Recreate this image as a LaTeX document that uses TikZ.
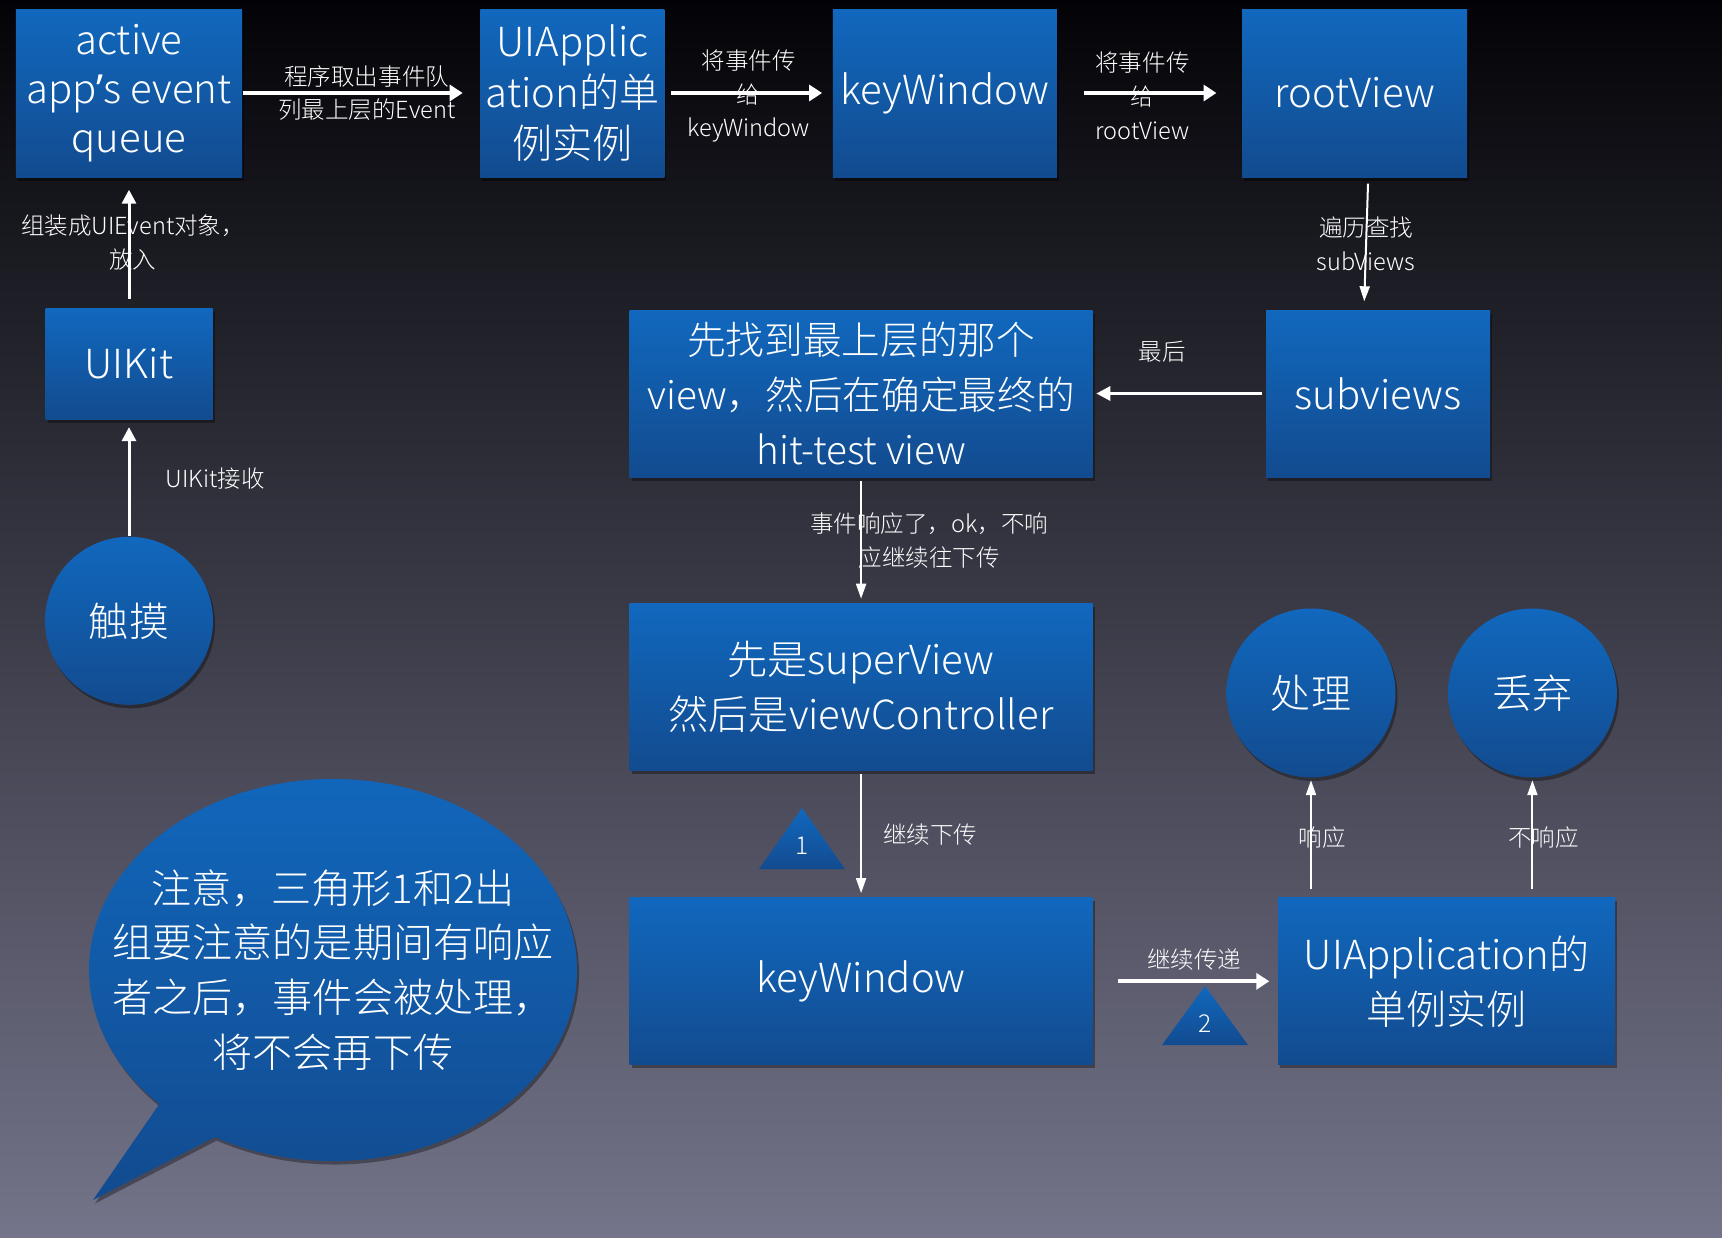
\documentclass[tikz,border=0pt]{standalone}
\usepackage{fontspec}
\setmainfont{Noto Sans CJK SC}[UprightFont={* Light}]
\newfontfamily\latinfont{Noto Sans}
\usetikzlibrary{arrows.meta,positioning,calc,shadows}
\definecolor{boxtop}{HTML}{1168BE}
\definecolor{boxbot}{HTML}{124B8F}
\definecolor{bgtop}{HTML}{030307}
\definecolor{bgmid}{HTML}{1D1D3A}
\definecolor{bgbot}{HTML}{74748A}
\newcommand{\boxfont}{\fontsize{11.4}{15.6}\selectfont}
\newcommand{\lblfont}{\fontsize{6.7}{9.6}\selectfont}

\begin{document}
\begin{tikzpicture}[
    node distance=16mm,
    box/.style={rectangle, top color=boxtop, bottom color=boxbot, text=white, align=center,
                inner sep=1pt, font=\boxfont, minimum height=16.7mm,
                drop shadow={shadow xshift=0.2mm, shadow yshift=-0.35mm, opacity=0.35, fill=black}},
    ball/.style={box, circle, minimum size=16.9mm},
    lbl/.style={text=white, font=\lblfont, align=center, inner sep=0pt},
    flow/.style={white, line width=0.4mm, -{Triangle[length=1.3mm,width=1.6mm]}},
    link/.style={white, line width=0.3mm, -{Triangle[length=1.4mm,width=1.4mm]}},
    hop/.style={white, line width=0.2mm, -{Triangle[length=1.5mm,width=1mm]}}]
  \useasboundingbox (0,0) rectangle (172.2mm,-123.8mm);
  \shade[top color=bgtop, middle color=bgmid, bottom color=bgbot] (0,0) rectangle (172.2mm,-123.8mm);

  \node[box, minimum width=22.6mm, minimum height=16.8mm, font=\fontsize{11.4}{13.9}\selectfont]
    (queue) at (12.9mm,-9.3mm) {active\\app{\latinfont ’}s event\\queue};
  \node[box, minimum width=18.4mm, minimum height=16.8mm, font=\fontsize{11.4}{14.5}\selectfont,
    right=23.7mm of queue] (app) {UIApplic\\ation的单\\例实例};
  \node[box, minimum width=22.4mm, minimum height=16.8mm, right=16.7mm of app] (keywin) {keyWindow};
  \node[box, minimum width=22.5mm, minimum height=16.8mm, right=18.4mm of keywin] (root) {rootView};
  \node[box, minimum width=16.7mm, minimum height=11.1mm, below=13mm of queue] (uikit) {UIKit};
  \node[ball, minimum size=16.8mm, below=11.6mm of uikit] (touch) {触摸};
  \node[box, minimum width=22.4mm] (subviews) at (137.8mm,-39.35mm) {subviews};
  \node[box, minimum width=46.3mm, font=\fontsize{11}{15.6}\selectfont, left=17.2mm of subviews]
    (hittest) {先找到最上层的那个\\view，然后在确定最终的\\hit-test view};
  \node[box, minimum width=46.3mm, below=12.5mm of hittest] (super) {先是superView\\然后是viewController};
  \node[box, minimum width=46.3mm, below=12.6mm of super] (keywin2) {keyWindow};
  \node[box, minimum width=33.7mm, right=18.4mm of keywin2] (app2) {UIApplication的\\单例实例};
  \node[ball] (handle) at (131.1mm,-69.3mm) {处理};
  \node[ball, right=5.1mm of handle] (discard) {丢弃};

  \coordinate (bub) at (33.3mm,-97mm);
  \coordinate (tip) at (9.3mm,-120mm);
  \path[top color=boxtop, bottom color=boxbot,
        drop shadow={shadow xshift=0.2mm, shadow yshift=-0.35mm, opacity=0.35, fill=black}]
    ([shift={(241:24.4mm and 19.1mm)}]bub)
    arc[start angle=241, end angle=584.6, x radius=24.4mm, y radius=19.1mm] -- (tip) -- cycle;
  \node[lbl, font=\boxfont] (note) at (bub) {注意，三角形1和2出\\组要注意的是期间有响应\\者之后，事件会被处理，\\将不会再下传};

  \coordinate (tri1) at (80.2mm,-86.9mm);
  \coordinate (tri2) at (120.5mm,-104.5mm);
  \path[top color=boxtop, bottom color=boxbot] ([xshift=-4.3mm]tri1) -- ([yshift=6.1mm]tri1) -- ([xshift=4.3mm]tri1) -- cycle;
  \path[top color=boxtop, bottom color=boxbot] ([xshift=-4.3mm]tri2) -- ([yshift=5.9mm]tri2) -- ([xshift=4.3mm]tri2) -- cycle;
  \node[lbl, font=\fontsize{7}{8}\selectfont] (one) at ([yshift=2.3mm]tri1) {1};
  \node[lbl, font=\fontsize{7}{8}\selectfont] (two) at ([yshift=2.15mm]tri2) {2};

  \draw[flow, shorten >=1.7mm] (queue) -- node[lbl, xshift=0.55mm] {程序取出事件队\\列最上层的Event} (app);
  \draw[flow, shorten <=0.6mm, shorten >=1mm] (app) -- node[lbl, yshift=-0.3mm] {将事件传\\给\\keyWindow} (keywin);
  \draw[flow, shorten <=2.6mm, shorten >=2.5mm] (keywin) -- node[lbl, xshift=-0.7mm, yshift=-0.3mm] {将事件传\\给\\rootView} (root);
  \draw[hop, shorten <=0.6mm, shorten >=0.8mm] ([xshift=1.35mm]root.south) -- node[lbl] {遍历查找\\subViews} ([xshift=-1.4mm]subviews.north);
  \draw[link, shorten <=0.3mm, shorten >=0.3mm] (subviews) -- node[lbl, xshift=-1.7mm, yshift=4.2mm] {最后} (hittest);
  \draw[hop, shorten <=0.3mm, shorten >=0.4mm] (hittest) -- node[lbl, xshift=6.8mm] {事件响应了，ok，不响\\应继续往下传} (super);
  \draw[hop, shorten <=0.3mm, shorten >=0.4mm] (super) -- node[lbl, xshift=6.9mm] {继续下传} (keywin2);
  \draw[flow, shorten <=2.5mm, shorten >=0.8mm] (keywin2) -- node[lbl, xshift=0.9mm, yshift=2.2mm] {继续传递} (app2);
  \draw[hop, shorten <=0.8mm, shorten >=0.2mm] (handle |- app2.north) -- node[lbl, xshift=1.1mm] {响应} (handle);
  \draw[hop, shorten <=0.8mm, shorten >=0.2mm] (discard |- app2.north) -- node[lbl, xshift=1.1mm] {不响应} (discard);
  \draw[link, shorten <=0.9mm, shorten >=1.2mm] (uikit) -- node[lbl, xshift=0.4mm] {组装成UIEvent对象，\\放入} (queue);
  \draw[link, shorten >=0.7mm] (touch) -- node[lbl, right=3.5mm] {UIKit接收} (uikit);
\end{tikzpicture}
\end{document}
